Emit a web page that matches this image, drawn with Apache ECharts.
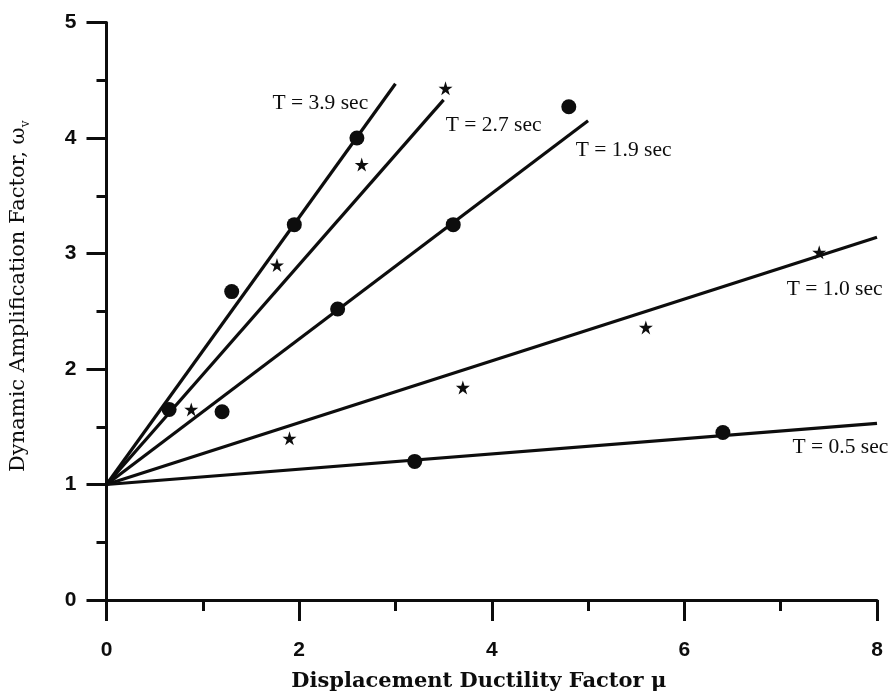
<!DOCTYPE html>
<html>
<head>
<meta charset="utf-8">
<script src="https://cdn.jsdelivr.net/npm/echarts@6/dist/echarts.min.js"></script>
<style>
  html, body { margin: 0; padding: 0; background: #fff; }
  #chart { width: 892px; height: 697px; }
</style>
</head>
<body>
<div id="chart"></div>
<script>
// Fitted lines: every line starts at (0, 1) and runs to its end point
const periods    = ['T = 3.9 sec', 'T = 2.7 sec', 'T = 1.9 sec', 'T = 1.0 sec', 'T = 0.5 sec'];
const lineStart  = [0, 1];
const lineEndsX  = [3.0, 3.5, 5.0, 8.0, 8.0];
const lineEndsY  = [4.47, 4.33, 4.15, 3.14, 1.53];

// Measured points
const circleX = [0.65, 1.30, 1.20, 1.95, 2.60, 2.40, 3.60, 4.80, 3.20, 6.40];
const circleY = [1.65, 2.67, 1.63, 3.25, 4.00, 2.52, 3.25, 4.27, 1.20, 1.45];
const starX   = [0.88, 1.90, 1.77, 2.65, 3.52, 3.70, 5.60, 7.40];
const starY   = [1.65, 1.40, 2.90, 3.77, 4.43, 1.84, 2.36, 3.01];

// Where each period label sits (data coordinates)
const labelX = [2.22, 4.02, 5.37, 7.56, 7.62];
const labelY = [4.30, 4.11, 3.89, 2.69, 1.32];

// Axis ticks
const xTicks = [0, 2, 4, 6, 8];
const yTicks = [0, 1, 2, 3, 4, 5];

const STAR = 'path://M50,0 L61.2,34.5 L97.6,34.5 L68.2,55.9 L79.4,90.5 L50,69.1 L20.6,90.5 L31.8,55.9 L2.4,34.5 L38.8,34.5 Z';
const serif = '"Liberation Serif", "Times New Roman", serif';
const wideSerif = '"DejaVu Serif", "Liberation Serif", serif';
const sans = '"Liberation Sans", Arial, sans-serif';
const INK = '#0d0d0d';

const lineSeries = periods.map((p, i) => ({
  name: p,
  type: 'line',
  data: [lineStart, [lineEndsX[i], lineEndsY[i]]],
  symbol: 'none',
  lineStyle: { color: INK, width: 3.2 },
  z: 2,
  silent: true
}));

const chart = echarts.init(document.getElementById('chart'), null, { renderer: 'canvas' });
chart.setOption({
  animation: false,
  backgroundColor: '#fff',
  grid: { left: 106.5, right: 15, top: 22.5, bottom: 97, containLabel: false, outerBoundsMode: 'none' },
  xAxis: {
    type: 'value', min: xTicks[0], max: xTicks[xTicks.length - 1], interval: 2,
    name: 'Displacement Ductility Factor μ',
    nameLocation: 'middle', nameGap: 71,
    nameTextStyle: { fontFamily: wideSerif, fontWeight: 'bold', fontSize: 21, color: INK, padding: [0, 26, 0, 0] },
    axisLine: { show: true, onZero: false, lineStyle: { color: INK, width: 3 } },
    axisTick: { show: true, inside: false, length: 21, lineStyle: { color: INK, width: 3 } },
    minorTick: { show: true, splitNumber: 2, length: 11, lineStyle: { color: INK, width: 3 } },
    axisLabel: { margin: 40, fontFamily: sans, fontWeight: 'bold', fontSize: 21, color: INK },
    splitLine: { show: false }
  },
  yAxis: {
    type: 'value', min: yTicks[0], max: yTicks[yTicks.length - 1], interval: 1,
    name: '{a|Dynamic Amplification Factor, ω}{s|v}',
    nameLocation: 'middle', nameGap: 75, nameRotate: 90,
    nameTextStyle: {
      padding: [0, 0, 0, 30],
      rich: {
        a: { fontFamily: wideSerif, fontSize: 21, color: INK, lineHeight: 26 },
        s: { fontFamily: wideSerif, fontSize: 12, color: INK, verticalAlign: 'bottom', lineHeight: 20 }
      }
    },
    axisLine: { show: true, onZero: false, lineStyle: { color: INK, width: 3 } },
    axisTick: { show: true, inside: false, length: 20, lineStyle: { color: INK, width: 3 } },
    minorTick: { show: true, splitNumber: 2, length: 10, lineStyle: { color: INK, width: 3 } },
    axisLabel: { margin: 30, fontFamily: sans, fontWeight: 'bold', fontSize: 21, color: INK },
    splitLine: { show: false }
  },
  series: [
    ...lineSeries,
    {
      name: 'circles', type: 'scatter', symbol: 'circle', symbolSize: 15,
      itemStyle: { color: INK, opacity: 1 }, z: 3, silent: true,
      data: circleX.map((x, i) => [x, circleY[i]])
    },
    {
      name: 'stars', type: 'scatter', symbol: STAR, symbolSize: 14,
      itemStyle: { color: INK, opacity: 1 }, z: 3, silent: true,
      data: starX.map((x, i) => [x, starY[i]])
    },
    {
      name: 'period labels', type: 'scatter', symbolSize: 0, z: 4, silent: true,
      itemStyle: { opacity: 1 },
      data: periods.map((p, i) => ({ value: [labelX[i], labelY[i]], name: p })),
      label: {
        show: true, position: 'inside', formatter: (d) => d.name,
        fontFamily: serif, fontSize: 21.5, color: INK, fontWeight: 'normal'
      }
    }
  ]
});
</script>
</body>
</html>
